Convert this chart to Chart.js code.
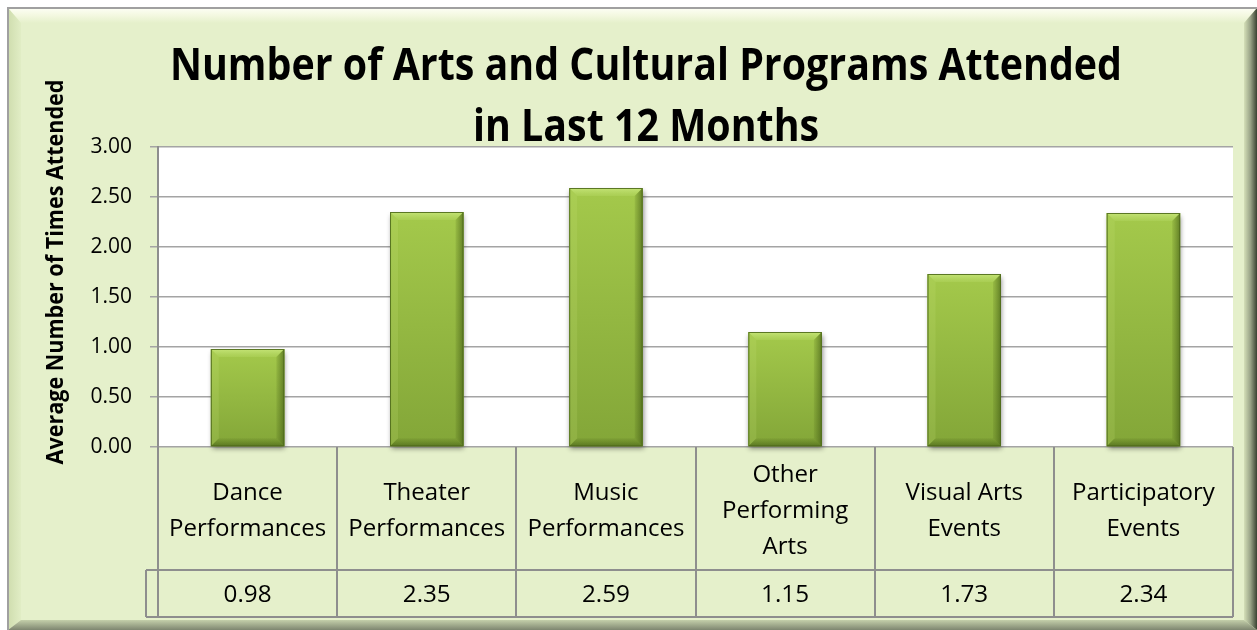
<!DOCTYPE html>
<html><head><meta charset="utf-8">
<script src="https://cdn.jsdelivr.net/npm/chart.js@4"></script>
<style>html,body{margin:0;padding:0;background:#fff;}canvas{display:block}</style>
</head><body>
<div style="width:1257px;height:630px"><canvas id="c" width="1257" height="630"></canvas></div>
<script>
// ---- data ----
const titleLines = ['Number of Arts and Cultural Programs Attended', 'in Last 12 Months'];
const yAxisTitle = 'Average Number of Times Attended';
const categories = [
  ['Dance', 'Performances'],
  ['Theater', 'Performances'],
  ['Music', 'Performances'],
  ['Other', 'Performing', 'Arts'],
  ['Visual Arts', 'Events'],
  ['Participatory', 'Events']
];
const values = [0.98, 2.35, 2.59, 1.15, 1.73, 2.34];
const yMin = 0, yMax = 3, yStep = 0.5;

// ---- helpers ----
const FF = "'Open Sans', 'DejaVu Sans', sans-serif";
const mctx = document.createElement('canvas').getContext('2d');
function scaleFor(text, font, targetW) {
  mctx.font = font;
  return targetW / mctx.measureText(text).width;
}
const titleFont = 'bold 44px ' + FF;
const yTitleFont = 'bold 24px ' + FF;
const catFont = 'normal 24px ' + FF;
const valFont = 'normal 24px ' + FF;
const titleSX = scaleFor(titleLines[0], titleFont, 952);
const yTitleSX = scaleFor(yAxisTitle, yTitleFont, 385);
const catSX = scaleFor('Performances', catFont, 157);
const valSX = scaleFor('0.98', valFont, 48);

function drawScaled(ctx, text, x, y, font, sx, rot) {
  ctx.save();
  ctx.translate(x, y);
  if (rot) ctx.rotate(rot);
  ctx.scale(sx, 1);
  ctx.font = font;
  ctx.textAlign = 'center';
  ctx.textBaseline = 'alphabetic';
  ctx.fillStyle = '#000';
  ctx.fillText(text, 0, 0);
  ctx.restore();
}

const BG = '#E5F0CB';

const framePlugin = {
  id: 'frame',
  beforeDraw(chart) {
    const ctx = chart.ctx, W = chart.width, H = chart.height;
    ctx.save();
    ctx.fillStyle = '#fff'; ctx.fillRect(0, 0, W, H);
    const L = 8, T = 8, R = W, B = H, L2 = 21, T2 = 23, R2 = 1244, B2 = 620;
    ctx.fillStyle = BG; ctx.fillRect(L, T, R - L, B - T);
    function poly(pts, fill) {
      ctx.beginPath(); ctx.moveTo(pts[0][0], pts[0][1]);
      for (let i = 1; i < pts.length; i++) ctx.lineTo(pts[i][0], pts[i][1]);
      ctx.closePath(); ctx.fillStyle = fill; ctx.fill();
    }
    let g = ctx.createLinearGradient(0, T, 0, T2);
    g.addColorStop(0, '#FDFEF4'); g.addColorStop(0.5, '#F3F8E0'); g.addColorStop(1, BG);
    poly([[L, T], [R, T], [R2, T2], [L2, T2]], g);
    g = ctx.createLinearGradient(L, 0, L2, 0);
    g.addColorStop(0, '#CFDDAE'); g.addColorStop(1, '#E1EDC5');
    poly([[L, T], [L2, T2], [L2, B2], [L, B]], g);
    g = ctx.createLinearGradient(R2, 0, R, 0);
    g.addColorStop(0, '#D5E0B8'); g.addColorStop(0.5, '#98A286'); g.addColorStop(1, '#3A4232');
    poly([[R, T], [R, B], [R2, B2], [R2, T2]], g);
    g = ctx.createLinearGradient(0, B2, 0, B);
    g.addColorStop(0, '#C4CFAA'); g.addColorStop(1, '#7E8670');
    poly([[L, B], [R, B], [R2, B2], [L2, B2]], g);
    ctx.strokeStyle = '#A0A0A0'; ctx.lineWidth = 2;
    ctx.beginPath(); ctx.moveTo(L, B); ctx.lineTo(L, T); ctx.lineTo(R, T); ctx.stroke();
    const a = chart.chartArea;
    ctx.fillStyle = '#fff'; ctx.fillRect(a.left, a.top, a.right - a.left, a.bottom - a.top);
    ctx.restore();
  },
  beforeDatasetsDraw(chart) {
    const ctx = chart.ctx;
    ctx.save();
    ctx.shadowColor = 'rgba(0,0,0,0.45)';
    ctx.shadowBlur = 5; ctx.shadowOffsetX = 1; ctx.shadowOffsetY = 3;
  },
  afterDatasetsDraw(chart) {
    const ctx = chart.ctx;
    ctx.restore();
    ctx.save();
    const meta = chart.getDatasetMeta(0);
    meta.data.forEach(bar => {
      const p = bar.getProps(['x', 'y', 'base', 'width'], true);
      const l = p.x - p.width / 2, r = p.x + p.width / 2, t = Math.min(p.y, p.base), b = Math.max(p.y, p.base);
      let g = ctx.createLinearGradient(0, t, 0, b);
      g.addColorStop(0, '#A4C94B'); g.addColorStop(1, '#83A638');
      ctx.fillStyle = g; ctx.fillRect(l, t, r - l, b - t);
      const d = 8;
      function poly(pts, fill) {
        ctx.beginPath(); ctx.moveTo(pts[0][0], pts[0][1]);
        for (let i = 1; i < pts.length; i++) ctx.lineTo(pts[i][0], pts[i][1]);
        ctx.closePath(); ctx.fillStyle = fill; ctx.fill();
      }
      let gt = ctx.createLinearGradient(0, t, 0, t + d);
      gt.addColorStop(0, 'rgba(205,235,130,0.8)'); gt.addColorStop(1, 'rgba(185,220,105,0.3)');
      poly([[l, t], [r, t], [r - d, t + d], [l + d, t + d]], gt);
      poly([[l, t], [l + d, t + d], [l + d, b - d], [l, b]], 'rgba(200,230,120,0.18)');
      let gr = ctx.createLinearGradient(r - d, 0, r, 0);
      gr.addColorStop(0, 'rgba(70,95,20,0.12)'); gr.addColorStop(1, 'rgba(55,80,15,0.6)');
      poly([[r, t], [r, b], [r - d, b - d], [r - d, t + d]], gr);
      let gb = ctx.createLinearGradient(0, b - d, 0, b);
      gb.addColorStop(0, 'rgba(70,95,20,0.1)'); gb.addColorStop(1, 'rgba(55,80,15,0.55)');
      poly([[l, b], [r, b], [r - d, b - d], [l + d, b - d]], gb);
      ctx.strokeStyle = 'rgba(80,108,28,0.9)'; ctx.lineWidth = 1;
      ctx.strokeRect(l + 0.5, t + 0.5, r - l - 1, b - t - 1);
    });
    ctx.restore();
  },
  afterDraw(chart) {
    const ctx = chart.ctx, a = chart.chartArea, xs = chart.scales.x;
    const n = categories.length, cw = (a.right - a.left) / n;
    const tBot = xs.bottom, rowY = a.bottom + 123;
    ctx.save();
    ctx.strokeStyle = '#8E8E8E'; ctx.lineWidth = 2;
    ctx.beginPath();
    for (let i = 0; i <= n; i++) {
      const x = Math.round(a.left + i * cw);
      ctx.moveTo(x, a.bottom); ctx.lineTo(x, tBot);
    }
    ctx.moveTo(a.left - 12, rowY); ctx.lineTo(a.right, rowY);
    ctx.moveTo(a.left - 12, tBot); ctx.lineTo(a.right, tBot);
    ctx.moveTo(a.left - 12, rowY); ctx.lineTo(a.left - 12, tBot);
    ctx.stroke();
    categories.forEach((lines, i) => {
      const cx = xs.getPixelForValue(i);
      lines.forEach((s, j) => {
        drawScaled(ctx, s, cx, a.bottom + 71 + (j - (lines.length - 1) / 2) * 36, catFont, catSX);
      });
    });
    values.forEach((v, i) => {
      drawScaled(ctx, v.toFixed(2), xs.getPixelForValue(i), rowY + 32, valFont, valSX);
    });
    drawScaled(ctx, titleLines[0], 646, 80, titleFont, titleSX);
    drawScaled(ctx, titleLines[1], 646, 141, titleFont, titleSX);
    drawScaled(ctx, yAxisTitle, 63, 272, yTitleFont, yTitleSX, -Math.PI / 2);
    ctx.restore();
  }
};

new Chart(document.getElementById('c'), {
  type: 'bar',
  data: {
    labels: categories.map(c => c.join(' ')),
    datasets: [{
      data: values,
      backgroundColor: '#94B942',
      borderWidth: 0,
      barPercentage: 0.41,
      categoryPercentage: 1,
      clip: false
    }]
  },
  options: {
    responsive: false,
    devicePixelRatio: 1,
    animation: false,
    layout: { padding: { top: 147, bottom: 13, left: 0, right: 24 } },
    plugins: { legend: { display: false }, title: { display: false }, tooltip: { enabled: false } },
    scales: {
      x: {
        grid: { display: false },
        border: { display: false },
        ticks: { display: false },
        afterFit(s) { s.height = 170; }
      },
      y: {
        min: yMin, max: yMax,
        ticks: {
          stepSize: yStep,
          padding: 18,
          color: '#000',
          font: { family: FF, size: 21 },
          callback: v => Number(v).toFixed(2)
        },
        grid: { color: '#A4A4A4', lineWidth: 1.5, tickLength: 8, tickColor: '#A4A4A4' },
        border: { color: '#8E8E8E', width: 2 },
        afterFit(s) { s.width = 158; }
      }
    }
  },
  plugins: [framePlugin]
});
</script>
</body></html>
